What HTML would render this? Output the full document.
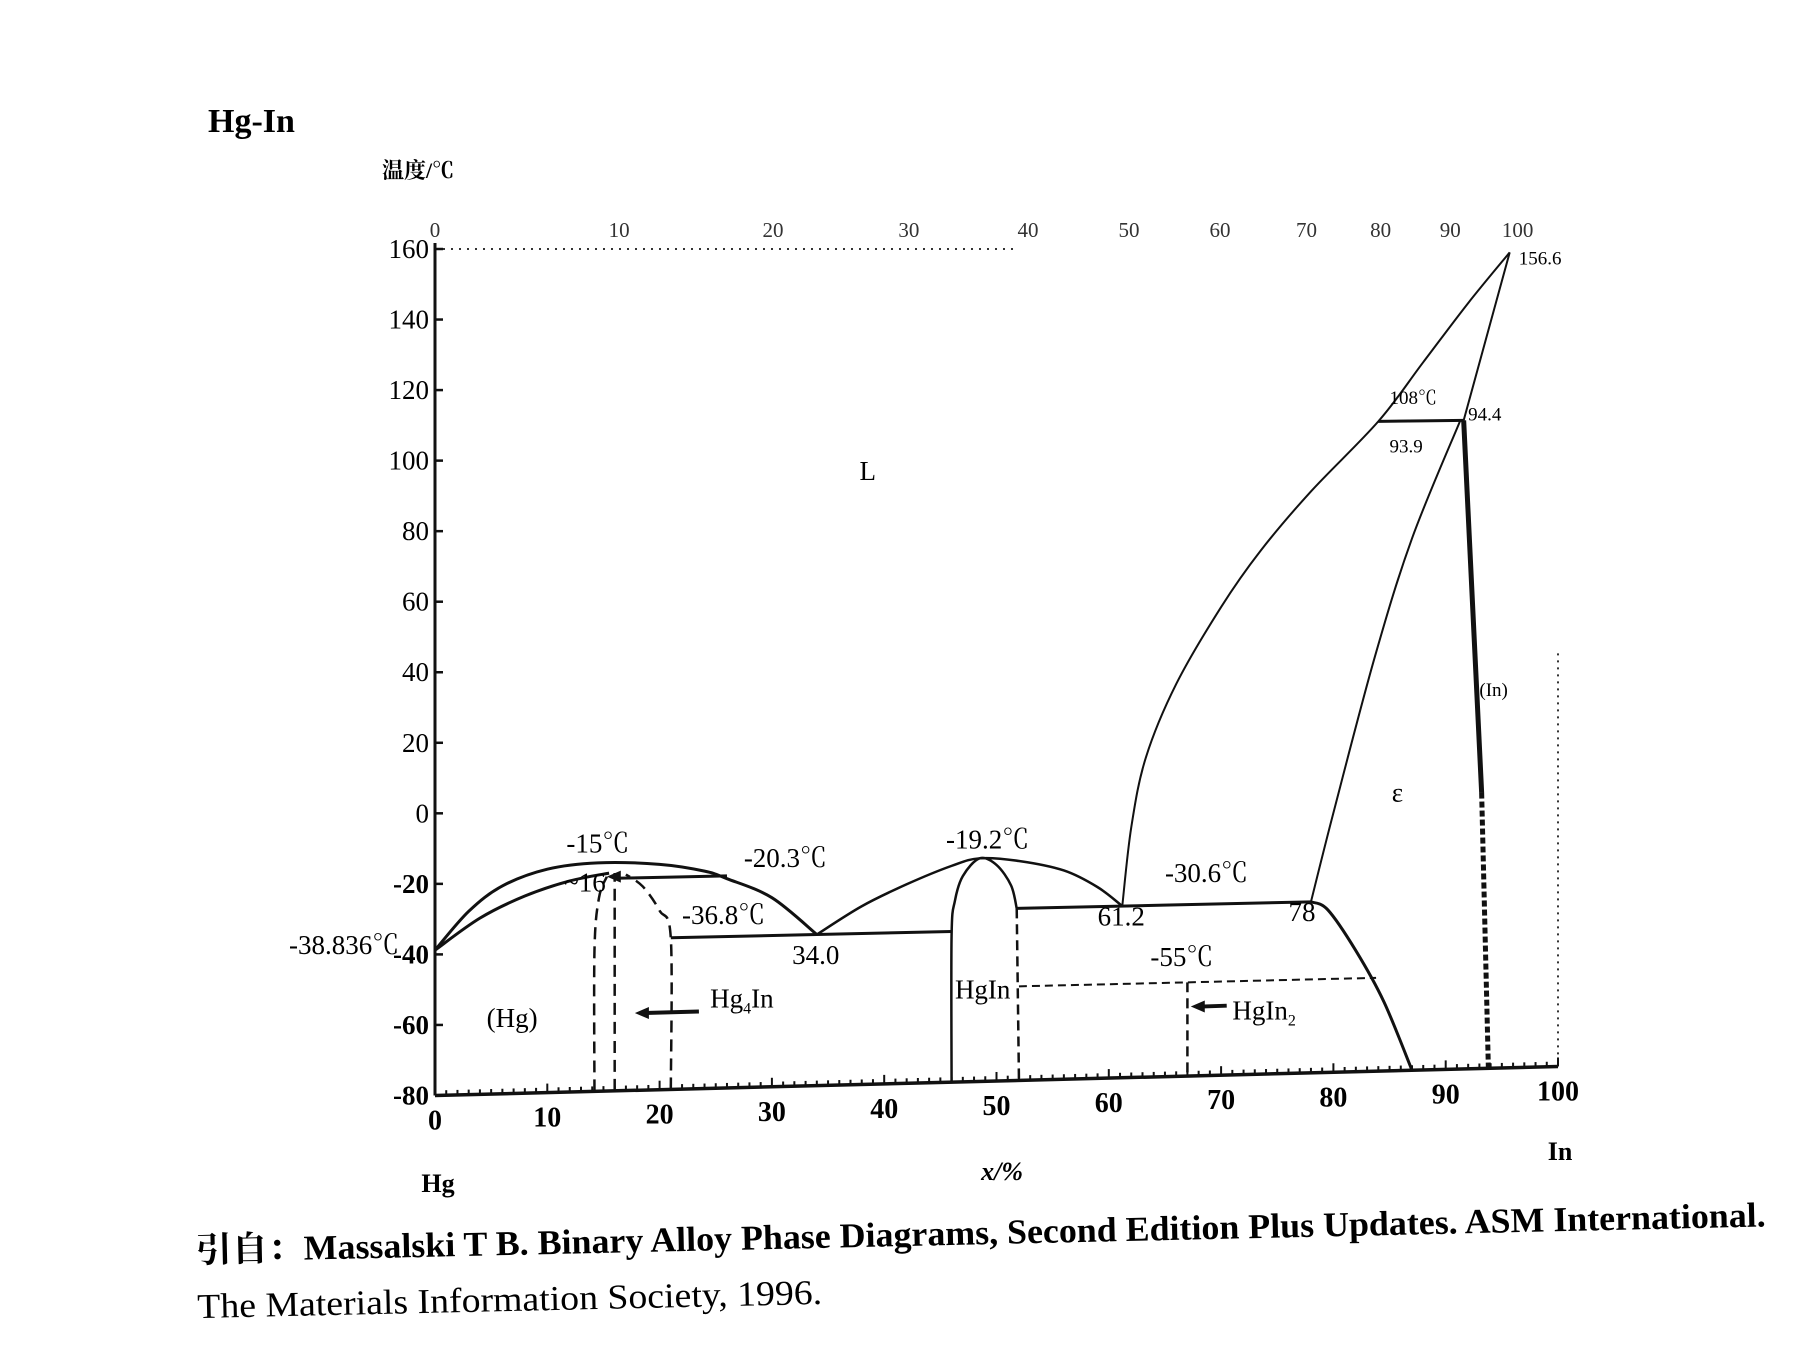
<!DOCTYPE html>
<html><head><meta charset="utf-8"><style>
html,body{margin:0;padding:0;background:#fff;}
svg{display:block;font-family:"Liberation Serif","Noto Serif CJK SC",serif;}
</style></head><body>
<svg id="chart" width="1795" height="1346" viewBox="0 0 1795 1346" xmlns="http://www.w3.org/2000/svg">
<text x="208" y="132" font-size="34" font-weight="bold">Hg-In</text>
<text x="382" y="178" font-size="22" font-weight="bold" font-family="'Liberation Serif','Noto Serif CJK SC',serif">温度/℃</text>
<g id="plot"></g>
<g transform="rotate(-1.3 200 1250)">
<text x="196" y="1262" font-size="35" font-weight="bold" textLength="1570" lengthAdjust="spacingAndGlyphs">引自：Massalski T B.  Binary Alloy Phase Diagrams, Second Edition Plus Updates.  ASM International.</text>
<text x="196" y="1318" font-size="35" textLength="625" lengthAdjust="spacingAndGlyphs">The Materials Information Society, 1996.</text>
</g>
</svg>
<script>
const yTicks = [160,140,120,100,80,60,40,20,0,-20,-40,-60,-80];
const xTicks = [0,10,20,30,40,50,60,70,80,90,100];
const topTicks = [0,10,20,30,40,50,60,70,80,90,100];
const topTickPos = [0,16.4,30.1,42.2,52.8,61.8,69.9,77.6,84.2,90.4,96.4];
const liquidusLeft = [[0,-38.8],[3,-28],[6,-21],[10,-16.5],[14.5,-15],[20,-15.8],[24,-18],[26,-20.3],[30,-26],[34,-36.8]];
const solidusHg = [[0,-38.8],[4,-30],[8,-24],[12,-20],[15.5,-18]];
const liquidusMid = [[34,-36.8],[38,-29],[42,-23],[46,-18],[48.5,-16],[52,-17],[56,-20],[59,-25],[61.2,-30.6]];
const hgInDome = [[46,-80],[46,-38],[46.3,-28],[47,-21],[48.5,-16],[50,-18],[51.3,-24],[51.8,-30.6]];
const liquidusRight = [[61.2,-30.6],[62,-8],[63.3,12],[66,33],[70,55],[73.5,71],[78,88],[84,108],[88,125],[92,142],[95.7,156.6]];
const epsSolidus = [[78,-30.6],[80,-5],[83.7,40],[87,74],[91.3,108]];
const epsRight = [[78,-30.6],[79.5,-33],[82,-45],[84.5,-60],[87,-80]];
const inLiquidus = [[91.6,108],[95.7,156.6]];
const inSolvus = [[91.6,108],[93.2,0]];
const inSolvusDash = [[93.2,0],[93.8,-80]];
const hg4InDashes = [
  [[14.2,-80],[14.2,-40],[14.6,-25],[15.3,-19]],
  [[16,-80],[16,-18]],
  [[21,-80],[21,-37],[20,-29],[18.5,-22],[17,-18.5]]
];
const hgInDash = [[51.8,-30.6],[52,-80]];
const hgIn2Dash = [[67,-53],[67,-80]];
const isotherms = [[[16,-19.5],[26,-19.5]],[[21,-36.8],[46,-36.8]],[[51.8,-30.6],[78,-30.6]],[[84,108],[91.6,108]]];
const dashIso = [[[52,-53],[83.8,-53]]];
const labels = [
 ["-15℃",14.5,-12,"middle"],["~16",11.5,-23,"start"],["-20.3℃",27.5,-17,"start"],
 ["-36.8℃",22,-33,"start"],["34.0",31.8,-45,"start"],["-38.836℃",-13,-39,"start"],
 ["-19.2℃",45.5,-13,"start"],["61.2",59,-36,"start"],["-30.6℃",65,-24,"start"],
 ["78",76,-36,"start"],["-55℃",63.7,-48,"start"],["(Hg)",4.6,-61,"start"],
 ["HgIn",46.3,-56,"start"],["L",37.8,93,"start"],["ε",85.2,-2,"start"],["(In)",93,28,"start"],
 ["108℃",85,113,"start"],["94.4",92,108,"start"],["93.9",85,99,"start"],["156.6",96.5,153,"start"]
];
const X = x => 435 + 11.23*x;
const Y = (t,x) => 249 + (160-t)*3.527 - 0.29*(x||0)*(0.3+0.7*(160-t)/240);
const NS="http://www.w3.org/2000/svg";
const plot=document.getElementById('plot');
function mk(tag,attrs,parent){const e=document.createElementNS(NS,tag);for(const k in attrs)e.setAttribute(k,attrs[k]);(parent||plot).appendChild(e);return e;}
function smooth(pts){
  const P=pts.map(p=>[X(p[0]),Y(p[1],p[0])]);
  let d="M"+P[0][0]+" "+P[0][1];
  for(let i=0;i<P.length-1;i++){
    const p0=P[i-1]||P[i],p1=P[i],p2=P[i+1],p3=P[i+2]||p2;
    const c1=[p1[0]+(p2[0]-p0[0])/6,p1[1]+(p2[1]-p0[1])/6];
    const c2=[p2[0]-(p3[0]-p1[0])/6,p2[1]-(p3[1]-p1[1])/6];
    d+=` C${c1[0]} ${c1[1]} ${c2[0]} ${c2[1]} ${p2[0]} ${p2[1]}`;
  }
  return d;
}
function curve(pts,name,w,dash){
  const e=mk('path',{d:smooth(pts),fill:'none',stroke:'#111','stroke-width':w||2.5});
  if(dash)e.setAttribute('stroke-dasharray',dash);
  
  
}
let ax=mk('line',{x1:X(0),y1:Y(160,0)-6,x2:X(0),y2:Y(-80,0),stroke:'#111','stroke-width':3});


ax=mk('line',{x1:X(0),y1:Y(-80,0),x2:X(100),y2:Y(-80,100),stroke:'#111','stroke-width':3.5});


ax=mk('line',{x1:X(0),y1:Y(160,0),x2:X(52),y2:Y(160,0),stroke:'#333','stroke-width':2,'stroke-dasharray':'2 6'});


ax=mk('line',{x1:X(100),y1:Y(40,100),x2:X(100),y2:Y(-80,100),stroke:'#333','stroke-width':2,'stroke-dasharray':'2 5'});


for(let i=0;i<=100;i++){
  const m=mk('line',{x1:X(i),y1:Y(-80,i),x2:X(i),y2:Y(-80,i)-(i%10===0?9:5),stroke:'#111','stroke-width':2});
  
  
}
yTicks.forEach(t=>{
  const l=mk('line',{x1:X(0),y1:Y(t,0),x2:X(0)+8,y2:Y(t,0),stroke:'#111','stroke-width':2.5});
  
  
  const tx=mk('text',{x:X(0)-6,y:Y(t,0)+9,'font-size':27,'text-anchor':'end','font-weight':t<=-20?'bold':'normal'});
  tx.textContent=t;
  
  
});
xTicks.forEach(v=>{
  const tx=mk('text',{x:X(v),y:Y(-80,v)+34,'font-size':28,'text-anchor':'middle','font-weight':'bold'});
  tx.textContent=v;
  
  
});
topTicks.forEach((v,i)=>{
  const tx=mk('text',{x:X(topTickPos[i]),y:Y(160,0)-12,'font-size':21,'text-anchor':'middle',fill:'#333'});
  tx.textContent=v;
  
  
});
[["x/%",X(50.5),1180,"x-axis-title"],["Hg",X(0)+3,1192,"hg-end-label"],["In",X(100)+2,1160,"in-end-label"]].forEach(a=>{
  const tx=mk('text',{x:a[1],y:a[2],'font-size':26,'font-weight':'bold','font-style':a[0]==="x/%"?'italic':'normal','text-anchor':'middle'});
  tx.textContent=a[0];
  
  
});
curve(liquidusLeft,'liquidus-left',3);
curve(solidusHg,'solidus-hg',3);
curve(liquidusMid,'liquidus-middle',2.5);
curve(hgInDome,'hgin-dome',2.5);
curve(liquidusRight,'liquidus-right',2);
curve(epsSolidus,'epsilon-solidus',2);
curve(epsRight,'epsilon-boundary',3);
curve(inLiquidus,'in-liquidus',2);
curve(inSolvus,'in-solvus',5);
curve(inSolvusDash,'in-solvus-dashed',5,'6 3');
hg4InDashes.forEach(p=>curve(p,'hg4in-boundary',2.5,'12 7'));
curve(hgInDash,'hgin-boundary-dashed',2.5,'10 6');
curve(hgIn2Dash,'hgin2-line',2.5,'10 6');
isotherms.forEach(p=>curve(p,'isotherm',3));
dashIso.forEach(p=>curve(p,'isotherm-55',2,'8 5'));
labels.forEach(l=>{
  const tx=mk('text',{x:X(l[1]),y:Y(l[2],l[1]),'font-size':l[0].length>3&&l[1]>84?19:27,'text-anchor':l[3]});
  tx.textContent=l[0];
  
  
});
function subLabel(x,t,base,sub,name){
  const tx=mk('text',{x:X(x),y:Y(t,x),'font-size':27});
  tx.textContent=base;
  const s=mk('tspan',{'font-size':16,dy:6},tx);s.textContent=sub;
  const r=mk('tspan',{dy:-6},tx);r.textContent=name==='hg4in-label'?'In':'';
  
  
}
subLabel(24.5,-57,'Hg','4','hg4in-label');
subLabel(71,-64,'HgIn','2','hgin2-label');
function arrow(x1,x2,t,name){
  const g=mk('g',{});
  mk('line',{x1:X(x1),y1:Y(t,x1),x2:X(x2)+10,y2:Y(t,x2),stroke:'#111','stroke-width':4},g);
  mk('path',{d:`M${X(x2)} ${Y(t,x2)} l14 -6 l0 12 z`,fill:'#111'},g);
  
  
}
arrow(23.5,17.8,-58,'hg4in-arrow');
arrow(70.5,67.3,-60,'hgin2-arrow');
arrow(16.5,15.3,-19,'16-arrow');
</script>
</body></html>
